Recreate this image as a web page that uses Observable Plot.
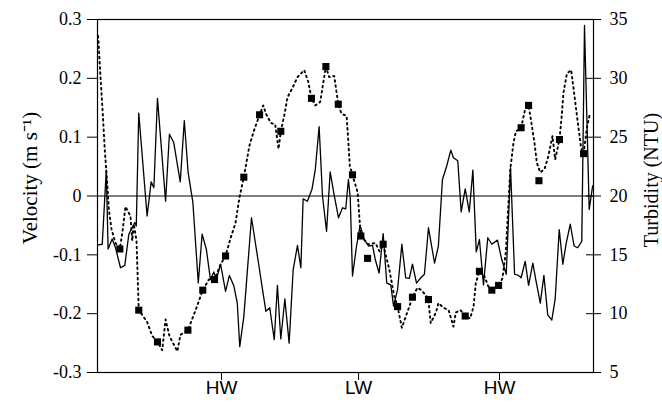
<!DOCTYPE html>
<html>
<head>
<meta charset="utf-8">
<script src="https://cdn.jsdelivr.net/npm/d3@7"></script>
<script src="https://cdn.jsdelivr.net/npm/@observablehq/plot@0.6"></script>
<style>
  html, body { margin: 0; padding: 0; background: #fff; }
  #chart svg { display: block; }
</style>
</head>
<body>
<div id="chart"></div>
<script>
// ---- Data (time in hours from start of record) ----
const velTime = [0.03,0.21,0.39,0.47,0.65,0.80,1.02,1.21,1.39,1.65,1.72,1.83,2.20,2.38,2.50,2.66,3.02,3.19,3.38,3.67,3.85,4.02,4.23,4.47,4.64,4.83,5.01,5.16,5.27,5.46,5.68,5.85,6.05,6.20,6.31,6.49,6.83,7.15,7.32,7.47,7.64,7.84,7.98,8.13,8.31,8.50,8.68,8.87,9.02,9.12,9.31,9.51,9.66,9.83,9.98,10.16,10.32,10.50,10.69,10.87,11.01,11.13,11.21,11.31,11.49,11.65,11.83,12.02,12.20,12.32,12.49,12.67,12.83,13.01,13.13,13.31,13.50,13.67,13.83,13.97,14.15,14.34,14.50,14.68,14.95,15.12,15.30,15.49,15.67,15.79,15.98,16.13,16.31,16.49,16.65,16.80,16.94,17.12,17.31,17.49,17.74,17.93,18.13,18.32,18.50,18.67,18.79,18.97,19.12,19.31,19.44,19.64,19.80,19.97,20.15,20.30,20.48,20.64,20.79,20.97,21.14,21.30,21.48,21.53,21.60,21.81,21.96];
const velocity = [-0.083,-0.082,0.044,-0.090,-0.073,-0.088,-0.122,-0.118,-0.065,-0.045,-0.051,0.141,-0.034,0.024,0.014,0.166,-0.009,0.105,0.091,0.024,0.128,0.040,-0.011,-0.148,-0.065,-0.091,-0.142,-0.129,-0.142,-0.116,-0.162,-0.135,-0.153,-0.182,-0.256,-0.205,-0.037,-0.116,-0.159,-0.196,-0.190,-0.244,-0.152,-0.243,-0.175,-0.250,-0.125,-0.084,-0.122,-0.005,-0.009,0.011,0.045,0.118,0.000,-0.060,0.041,0.001,-0.037,-0.020,-0.022,0.028,-0.003,-0.136,-0.085,-0.050,-0.074,-0.085,-0.084,-0.108,-0.131,-0.064,-0.148,-0.151,-0.187,-0.159,-0.082,-0.139,-0.140,-0.116,-0.148,-0.139,-0.133,-0.054,-0.114,-0.085,0.028,0.051,0.078,0.065,0.060,-0.027,0.012,-0.027,0.044,-0.095,-0.074,-0.151,-0.071,-0.082,-0.075,-0.108,-0.133,0.048,-0.133,-0.135,-0.139,-0.111,-0.152,-0.114,-0.142,-0.182,-0.135,-0.202,-0.211,-0.175,-0.057,-0.116,-0.080,-0.048,-0.085,-0.088,-0.077,0.071,0.290,-0.023,0.017];

const turbTime = [0.03,0.13,0.24,0.32,0.43,0.50,0.62,0.80,0.99,1.11,1.24,1.46,1.54,1.61,1.73,1.83,2.20,2.43,2.66,2.87,3.02,3.19,3.54,3.68,4.01,4.35,4.67,4.94,5.19,5.46,5.68,5.90,6.12,6.30,6.49,6.74,6.93,7.19,7.35,7.47,7.69,7.88,8.03,8.13,8.28,8.43,8.65,8.87,9.17,9.35,9.49,9.66,9.88,10.02,10.13,10.28,10.50,10.68,10.82,11.05,11.13,11.19,11.31,11.54,11.61,11.68,12.01,12.33,12.51,12.67,12.94,13.16,13.31,13.50,13.68,13.83,13.97,14.19,14.37,14.67,14.78,15.01,15.12,15.35,15.57,15.79,15.89,16.10,16.31,16.53,16.68,16.78,16.94,17.12,17.34,17.49,17.79,17.96,18.11,18.31,18.45,18.56,18.79,18.97,19.12,19.24,19.39,19.49,19.64,19.83,20.00,20.18,20.30,20.49,20.59,20.67,20.82,21.01,21.19,21.34,21.45,21.56,21.70,21.85];
const turbidity = [33.6,30.2,26.8,24.0,21.1,18.9,17.2,16.0,15.5,17.0,19.1,18.3,16.2,17.6,16.2,10.3,9.3,8.1,7.6,6.9,9.5,8.1,6.8,8.2,8.6,10.3,12.0,12.9,12.9,14.2,14.9,16.4,17.7,19.9,21.6,24.3,25.5,26.9,27.7,27.0,26.2,26.1,24.0,25.5,26.8,28.4,29.2,30.1,30.7,29.7,28.3,27.7,28.0,29.7,31.0,30.1,30.2,27.8,27.0,26.8,24.5,22.6,21.8,20.3,18.3,16.6,15.9,16.0,15.3,15.9,13.8,11.5,10.6,8.8,9.8,10.6,11.4,12.2,12.0,11.3,9.2,10.1,10.9,10.5,10.3,8.9,10.1,10.3,9.8,9.6,10.6,12.6,13.6,13.4,12.3,12.0,12.4,13.0,15.2,22.3,24.5,25.5,25.8,27.4,27.7,26.3,24.4,22.8,22.0,22.3,23.4,25.1,23.1,24.8,26.8,28.8,30.4,30.7,28.0,25.7,24.1,23.6,25.7,27.1];

const sampleTime = [0.99,1.83,2.66,4.01,4.67,5.19,5.68,6.49,7.19,8.13,9.49,10.13,10.68,11.31,11.68,11.98,12.67,13.31,13.97,14.68,16.31,16.94,17.49,17.79,18.79,19.12,19.58,20.49,21.56];
const sampleTurbidity = [15.5,10.3,7.6,8.6,12.0,12.9,14.9,21.6,26.9,25.5,28.3,31.0,27.8,21.8,16.6,14.7,15.9,10.6,11.4,11.2,9.8,13.6,12.0,12.4,25.8,27.7,21.3,24.8,23.6];

const tideTickTimes = [5.50, 11.58, 17.83];
const tideTickLabels = ["HW", "LW", "HW"];
const velocityTicks = [-0.3, -0.2, -0.1, 0, 0.1, 0.2, 0.3];
const turbidityTicks = [5, 10, 15, 20, 25, 30, 35];

// ---- Build tables ----
const velData = velTime.map((t, i) => ({t, v: velocity[i]}));
const turbData = turbTime.map((t, i) => ({t, T: turbidity[i]}));
const sampData = sampleTime.map((t, i) => ({t, T: sampleTurbidity[i]}));

// turbidity (NTU) mapped onto the velocity axis: 5..35 NTU <-> -0.3..0.3 m/s
const turbToVel = T => (T - 20) / 50;
const velToTurb = v => Math.round(v * 50 + 20);

const serif = "Liberation Serif, Times New Roman, serif";
const sans = "Liberation Sans, Arial, sans-serif";

const chart = Plot.plot({
  width: 662,
  height: 414,
  marginLeft: 97,
  marginRight: 69,
  marginTop: 19,
  marginBottom: 42,
  style: {fontFamily: serif, background: "#fff", color: "#000"},
  x: {domain: [0, 22]},
  y: {domain: [-0.3, 0.3]},
  marks: [
    Plot.ruleY([0], {stroke: "#000", strokeWidth: 1}),
    Plot.line(turbData, {x: "t", y: d => turbToVel(d.T), stroke: "#000", strokeWidth: 1.9, strokeDasharray: "1.6,3.6"}),
    Plot.line(velData, {x: "t", y: "v", stroke: "#000", strokeWidth: 1.3}),
    Plot.dot(sampData, {x: "t", y: d => turbToVel(d.T), symbol: "square", r: 4, fill: "#000", stroke: "none"}),
    Plot.frame({stroke: "#000", strokeWidth: 1.2}),
    Plot.axisY(velocityTicks, {anchor: "left", tickSize: 10, tickPadding: 6, fontSize: 18, fontFamily: serif,
      tickFormat: d => d === 0 ? "0" : d.toFixed(1), label: null}),
    Plot.axisY(turbidityTicks.map(turbToVel), {anchor: "right", tickSize: 15, dx: -8, tickFormat: () => "", label: null}),
    Plot.axisY(turbidityTicks.map(turbToVel), {anchor: "right", tickSize: 0, tickPadding: 16, fontSize: 18, fontFamily: serif,
      tickFormat: velToTurb, label: null}),
    Plot.axisX(tideTickTimes, {anchor: "bottom", tickSize: 8, tickPadding: 0, fontSize: 19, fontFamily: sans,
      tickFormat: d => tideTickLabels[tideTickTimes.indexOf(d)], label: null}),
    Plot.text([0], {frameAnchor: "left", textAnchor: "middle", dx: -67, dy: -18, rotate: -90, text: () => "Velocity (m s\u207B\u00B9)", fontSize: 21, fontFamily: serif, fill: "#000"}),
    Plot.text([0], {frameAnchor: "right", textAnchor: "middle", dx: 58, dy: -16, rotate: -90, text: () => "Turbidity (NTU)", fontSize: 20, fontFamily: serif, fill: "#000"})
  ]
});
document.getElementById("chart").appendChild(chart);
</script>
</body>
</html>
